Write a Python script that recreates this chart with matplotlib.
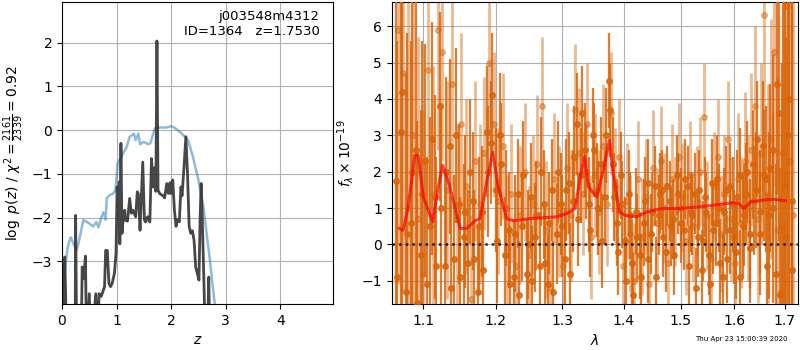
#!/usr/bin/python3

import numpy as np
import matplotlib
matplotlib.use("Agg")
import matplotlib.pyplot as plt
from matplotlib.ticker import NullLocator

# redshift probability (left panel)
z_pz = [0.00, 0.02, 0.05, 0.09, 0.24, 0.25, 0.27, 0.35, 0.37, 0.40, 0.43, 0.45,
        0.50, 0.53, 0.62, 0.65, 0.68, 0.72, 0.78, 0.80, 0.83, 0.86, 0.89, 0.92,
        0.96, 0.99, 1.01, 1.02, 1.05, 1.06, 1.08, 1.10, 1.12, 1.15, 1.16, 1.20,
        1.24, 1.27, 1.30, 1.35, 1.38, 1.40, 1.43, 1.44, 1.48, 1.51, 1.53, 1.57,
        1.61, 1.64, 1.67, 1.70, 1.72, 1.74, 1.76, 1.79, 1.85, 1.88, 1.92, 1.95,
        1.98, 2.00, 2.03, 2.06, 2.09, 2.11, 2.15, 2.18, 2.20, 2.24, 2.27, 2.30,
        2.33, 2.36, 2.39, 2.42, 2.45, 2.48, 2.51, 2.53, 2.55, 2.57, 2.60, 2.63,
        2.66, 2.69, 2.71, 2.80]
logpz = [-5.0, -3.97, -2.90, -5.0, -5.0, -1.95, -5.0, -5.0, -3.13, -3.40, -2.88, -5.0,
         -3.74, -5.0, -3.74, -5.0, -3.74, -3.80, -3.58, -2.75, -2.75, -3.51, -3.58, -3.50,
         -3.28, -2.82, -1.30, -1.60, -1.18, -2.60, -0.30, -2.36, -2.05, -1.83, -2.06, -2.08,
         -1.56, -1.90, -1.83, -1.98, -1.41, -1.45, -2.29, -1.98, -0.73, -2.05, -2.10, -1.98,
         -2.10, -0.65, -1.30, -0.85, -1.40, 2.04, -1.37, -1.45, -1.50, -1.55, -1.22, -1.45,
         -1.20, -1.45, -1.14, -1.83, -2.20, -2.05, -2.10, -1.30, -1.50, -0.76, -0.15, -1.00,
         -2.20, -2.36, -2.30, -2.52, -3.13, -3.28, -3.43, -2.06, -1.22, -2.00, -3.43, -5.0,
         -5.0, -3.36, -5.0, -5.0]

z_chi = [0.00, 0.05, 0.10, 0.14, 0.16, 0.23, 0.27, 0.30, 0.39, 0.46, 0.57, 0.63,
         0.67, 0.72, 0.76, 0.80, 0.82, 0.88, 0.94, 0.98, 1.02, 1.09, 1.18, 1.24,
         1.32, 1.35, 1.40, 1.43, 1.50, 1.58, 1.62, 1.70, 1.79, 1.91, 2.00, 2.06,
         2.16, 2.25, 2.31, 2.40, 2.50, 2.59, 2.65, 2.71, 2.77, 2.80, 2.90]
chi_scaled = [-3.98, -3.27, -2.70, -2.52, -2.45, -2.65, -2.74, -2.60, -2.06, -2.10, -2.20, -2.10,
              -2.22, -2.00, -1.88, -2.05, -1.55, -1.48, -1.45, -1.38, -0.75, -0.60, -0.40, -0.15,
              -0.08, -0.23, -0.08, -0.32, -0.27, -0.32, -0.30, 0.04, 0.06, 0.06, 0.09, 0.06,
              -0.04, -0.15, -0.23, -0.61, -1.14, -1.75, -2.36, -2.97, -3.66, -3.98, -5.0]

# spectrum (right panel), wavelength in micron
wave_a = [1.0640, 1.0705, 1.0770, 1.0835, 1.0900, 1.0965, 1.1030, 1.1095, 1.1160, 1.1225,
          1.1290, 1.1355, 1.1420, 1.1485, 1.1550, 1.1615, 1.1680, 1.1745, 1.1810, 1.1875,
          1.1940, 1.2005, 1.2070, 1.2135, 1.2200, 1.2265, 1.2330, 1.2395, 1.2460, 1.2525,
          1.2590, 1.2655, 1.2720, 1.2785, 1.2850, 1.2915, 1.2980, 1.3045, 1.3110, 1.3175,
          1.3240, 1.3305, 1.3370, 1.3435, 1.3500, 1.3565, 1.3630, 1.3695, 1.3760, 1.3825,
          1.3890, 1.3955, 1.4020, 1.4085, 1.4150, 1.4215, 1.4280, 1.4345, 1.4410, 1.4475,
          1.4540, 1.4605, 1.4670, 1.4735, 1.4800, 1.4865, 1.4930, 1.4995, 1.5060, 1.5125,
          1.5190, 1.5255, 1.5320, 1.5385, 1.5450, 1.5515, 1.5580, 1.5645, 1.5710, 1.5775,
          1.5840, 1.5905, 1.5970, 1.6035, 1.6100, 1.6165, 1.6230, 1.6295, 1.6360, 1.6425,
          1.6490, 1.6555, 1.6620, 1.6685, 1.6750, 1.6815, 1.6880, 1.6945, 1.7010, 1.7075,
          1.7140]
flux_a = [1.75, 3.1, -1.3, 0.6, 2.6, -0.3, 2.3, 0.5, 1.3, 3.8,
          -0.6, 2.7, -0.4, 1.1, 0.2, -0.5, 1.2, -1.3, 0.9, 3.1,
          2.8, 1.5, 3.0, -0.3, 0.4, -0.9, 1.4, 0.5, -0.8, 1.3,
          0.2, -0.6, 1.1, -1.1, 1.5, 0.3, 1.1, -0.4, 1.7, 1.2,
          3.3, 1.9, 2.6, 1.1, 3.0, 1.5, 2.2, 1.3, 4.5, 2.2,
          0.6, 1.9, 0.1, 1.4, -0.5, 0.9, -0.3, 0.6, 1.7, 0.3,
          1.6, 0.8, 1.5, -0.2, 1.2, 0.7, 1.9, 1.0, 0.4, 1.6,
          0.9, 1.4, 0.2, -0.7, 1.3, -0.3, 1.7, 0.6, 1.0, -0.9,
          1.5, 0.4, 1.1, -0.2, 1.9, 0.5, 1.4, 0.3, 2.2, 1.5,
          0.9, 2.7, 1.8, 0.8, 2.6, -0.8, 3.6, 0.5, 1.6, 3.0,
          1.2]
err_a = [6.0, 5.5, 6.0, 5.0, 4.5, 4.0, 3.2, 3.0, 2.8, 2.6,
         2.5, 2.4, 2.3, 2.2, 2.0, 2.0, 1.9, 1.8, 1.8, 1.8,
         1.7, 1.7, 1.7, 1.6, 1.6, 1.6, 1.5, 1.5, 1.5, 1.5,
         1.5, 1.5, 1.5, 1.4, 1.4, 1.4, 1.4, 1.4, 1.4, 1.4,
         1.4, 1.3, 1.3, 1.3, 1.3, 1.3, 1.3, 1.3, 1.3, 1.3,
         1.2, 1.2, 1.2, 1.2, 1.2, 1.2, 1.2, 1.2, 1.2, 1.1,
         1.1, 1.1, 1.1, 1.1, 1.1, 1.1, 1.1, 1.1, 1.1, 1.1,
         1.1, 1.1, 1.1, 1.1, 1.1, 1.1, 1.2, 1.2, 1.2, 1.2,
         1.2, 1.2, 1.3, 1.3, 1.3, 1.4, 1.4, 1.5, 1.5, 1.6,
         1.7, 1.8, 2.0, 2.3, 2.6, 3.0, 3.5, 4.5, 5.5, 6.5,
         8.0]

wave_c = [1.0656, 1.0721, 1.0786, 1.0851, 1.0916, 1.0981, 1.1046, 1.1111, 1.1176, 1.1241,
          1.1306, 1.1371, 1.1436, 1.1501, 1.1566, 1.1631, 1.1696, 1.1761, 1.1826, 1.1891,
          1.1956, 1.2021, 1.2086, 1.2151, 1.2216, 1.2281, 1.2346, 1.2411, 1.2476, 1.2541,
          1.2606, 1.2671, 1.2736, 1.2801, 1.2866, 1.2931, 1.2996, 1.3061, 1.3126, 1.3191,
          1.3256, 1.3321, 1.3386, 1.3451, 1.3516, 1.3581, 1.3646, 1.3711, 1.3776, 1.3841,
          1.3906, 1.3971, 1.4036, 1.4101, 1.4166, 1.4231, 1.4296, 1.4361, 1.4426, 1.4491,
          1.4556, 1.4621, 1.4686, 1.4751, 1.4816, 1.4881, 1.4946, 1.5011, 1.5076, 1.5141,
          1.5206, 1.5271, 1.5336, 1.5401, 1.5466, 1.5531, 1.5596, 1.5661, 1.5726, 1.5791,
          1.5856, 1.5921, 1.5986, 1.6051, 1.6116, 1.6181, 1.6246, 1.6311, 1.6376, 1.6441,
          1.6506, 1.6571, 1.6636, 1.6701, 1.6766, 1.6831, 1.6896, 1.6961, 1.7026, 1.7091,
          1.7156]
flux_c = [-0.9, 4.2, 0.3, 2.0, -1.6, 1.4, -1.1, 2.9, -0.6, 1.0,
          2.0, -1.2, 3.0, -0.9, 0.9, 2.0, -0.4, 0.5, -0.7, 2.0,
          4.1, 0.1, 2.2, 1.0, -1.1, 0.3, -1.4, 1.9, 0.0, -1.0,
          0.8, 2.0, -0.5, 0.6, -1.3, 2.0, 0.5, 1.5, -0.8, 2.4,
          0.7, 3.6, 2.0, 0.4, 2.6, 1.0, 0.1, 3.0, 3.7, 1.3,
          -0.2, 1.1, -1.0, 0.8, -1.4, 0.2, -0.9, 1.2, -0.4, 0.9,
          -0.9, 1.4, 0.2, 1.6, 0.5, -0.3, 1.4, 0.6, 1.8, -0.6,
          0.8, -1.2, 1.5, 0.1, 0.9, -1.1, 0.4, 1.8, -0.5, 0.9,
          -0.4, 1.6, 0.2, 1.3, -0.9, 0.8, 2.0, -0.1, 1.2, 2.9,
          0.3, 1.9, -0.6, 2.1, 1.0, 4.4, -1.4, 2.5, 0.2, 4.0,
          -0.7]
err_c = [6.5, 6.0, 5.5, 5.0, 5.0, 4.2, 3.5, 3.2, 3.0, 2.8,
         2.6, 2.5, 2.4, 2.2, 2.1, 2.0, 1.9, 1.9, 1.8, 1.8,
         1.7, 1.7, 1.7, 1.6, 1.6, 1.6, 1.5, 1.5, 1.5, 1.5,
         1.5, 1.5, 1.5, 1.4, 1.4, 1.4, 1.4, 1.4, 1.4, 1.4,
         1.3, 1.3, 1.3, 1.3, 1.3, 1.3, 1.3, 1.3, 1.3, 1.2,
         1.2, 1.2, 1.2, 1.2, 1.2, 1.2, 1.2, 1.2, 1.2, 1.1,
         1.1, 1.1, 1.1, 1.1, 1.1, 1.1, 1.1, 1.1, 1.1, 1.1,
         1.1, 1.1, 1.1, 1.1, 1.1, 1.1, 1.2, 1.2, 1.2, 1.2,
         1.2, 1.2, 1.3, 1.3, 1.3, 1.4, 1.4, 1.5, 1.5, 1.6,
         1.7, 1.8, 2.0, 2.3, 2.6, 3.0, 3.5, 4.5, 5.5, 6.5,
         8.0]

wave_b = [1.0672, 1.0737, 1.0802, 1.0867, 1.0932, 1.0997, 1.1062, 1.1127, 1.1192, 1.1257,
          1.1322, 1.1387, 1.1452, 1.1517, 1.1582, 1.1647, 1.1712, 1.1777, 1.1842, 1.1907,
          1.1972, 1.2037, 1.2102, 1.2167, 1.2232, 1.2297, 1.2362, 1.2427, 1.2492, 1.2557,
          1.2622, 1.2687, 1.2752, 1.2817, 1.2882, 1.2947, 1.3012, 1.3077, 1.3142, 1.3207,
          1.3272, 1.3337, 1.3402, 1.3467, 1.3532, 1.3597, 1.3662, 1.3727, 1.3792, 1.3857,
          1.3922, 1.3987, 1.4052, 1.4117, 1.4182, 1.4247, 1.4312, 1.4377, 1.4442, 1.4507,
          1.4572, 1.4637, 1.4702, 1.4767, 1.4832, 1.4897, 1.4962, 1.5027, 1.5092, 1.5157,
          1.5222, 1.5287, 1.5352, 1.5417, 1.5482, 1.5547, 1.5612, 1.5677, 1.5742, 1.5807,
          1.5872, 1.5937, 1.6002, 1.6067, 1.6132, 1.6197, 1.6262, 1.6327, 1.6392, 1.6457,
          1.6522, 1.6587, 1.6652, 1.6717, 1.6782, 1.6847, 1.6912, 1.6977, 1.7042, 1.7107,
          1.7172]
flux_b = [5.9, 4.7, 1.0, 3.0, 0.7, -0.8, 4.8, 1.4, 5.9, 5.3,
          1.5, 4.4, 0.7, 3.3, 1.6, -1.5, 2.3, 1.1, 2.5, 5.0,
          3.3, 1.2, 2.7, -0.1, 1.4, -0.6, 0.8, 2.0, -0.3, 1.1,
          2.2, 3.8, 0.4, -1.2, 1.8, 0.9, -0.6, 2.1, 0.8, 3.7,
          2.5, 1.4, 3.3, 0.2, 1.9, 0.9, 2.7, 1.1, 3.6, 1.6,
          2.4, -0.6, 1.2, 0.3, -1.0, 1.8, 0.2, 1.3, -1.1, 2.1,
          0.6, 2.3, 1.0, -0.5, 1.8, 0.9, 2.4, 1.3, 0.1, 1.9,
          0.5, 1.2, 2.0, 3.5, 0.8, -0.4, 1.6, 2.4, 0.3, 1.4,
          2.9, 0.7, -0.5, 1.8, 0.6, 2.3, 1.0, 2.6, 3.8, 0.7,
          2.5, 6.3, 1.4, 2.9, 5.3, 0.4, -1.3, 1.9, 6.55, 2.3,
          0.8]
err_b = [7.0, 6.0, 6.0, 5.5, 5.0, 4.5, 3.8, 3.5, 3.3, 3.0,
         3.0, 2.8, 2.6, 2.5, 2.4, 2.3, 2.2, 2.2, 2.1, 2.1,
         2.0, 2.0, 2.0, 2.0, 1.9, 1.9, 1.9, 1.9, 1.9, 1.9,
         1.9, 1.9, 1.9, 1.9, 1.8, 1.8, 1.8, 1.8, 1.8, 1.8,
         1.8, 1.7, 1.7, 1.7, 1.7, 1.7, 1.7, 1.7, 1.7, 1.6,
         1.6, 1.6, 1.6, 1.6, 1.6, 1.6, 1.6, 1.6, 1.6, 1.6,
         1.5, 1.5, 1.5, 1.5, 1.5, 1.5, 1.5, 1.5, 1.5, 1.5,
         1.5, 1.5, 1.5, 1.5, 1.5, 1.5, 1.5, 1.6, 1.6, 1.6,
         1.6, 1.7, 1.7, 1.8, 1.8, 1.9, 2.0, 2.1, 2.2, 2.3,
         2.5, 2.7, 3.0, 3.3, 3.7, 4.2, 4.8, 5.5, 6.5, 7.5,
         8.5]

# best-fit model
wave_model = [1.0686, 1.0738, 1.0802, 1.0890, 1.0933, 1.1000, 1.1125, 1.1201, 1.1260, 1.1360,
              1.1499, 1.1590, 1.1708, 1.1779, 1.1860, 1.1959, 1.2040, 1.2163, 1.2260, 1.2510,
              1.2919, 1.3076, 1.3208, 1.3288, 1.3357, 1.3422, 1.3554, 1.3663, 1.3762, 1.3829,
              1.3929, 1.4028, 1.4227, 1.4403, 1.4692, 1.4991, 1.5294, 1.5604, 1.5986, 1.6080,
              1.6180, 1.6313, 1.6577, 1.6778, 1.7013]
flux_model = [0.44, 0.39, 1.03, 2.45, 2.45, 1.31, 0.62, 1.58, 2.18, 1.58,
              0.44, 0.44, 0.65, 0.71, 1.58, 2.54, 1.58, 0.71, 0.65, 0.71,
              0.76, 0.85, 0.99, 1.86, 2.41, 1.58, 1.31, 2.04, 2.87, 1.95,
              0.90, 0.80, 0.76, 0.90, 0.99, 0.99, 1.03, 1.08, 1.15, 1.13,
              0.99, 1.17, 1.22, 1.24, 1.20]

orange = "#d9650a"


def main():
    fig = plt.figure(figsize=(8, 3.5), dpi=100)
    ax1 = fig.add_axes([0.0775, 0.131, 0.339, 0.863])
    ax2 = fig.add_axes([0.4896, 0.131, 0.5084, 0.863])

    # p(z)
    ax1.plot(z_chi, chi_scaled, color="#1f77b4", alpha=0.5, lw=1.8)
    ax1.plot(z_pz, logpz, color="0.2", alpha=0.9, lw=2)
    ax1.set_xlim(0, 4.97)
    ax1.set_ylim(-3.98, 2.93)
    ax1.set_xticks([0, 1, 2, 3, 4])
    ax1.set_yticks([-3, -2, -1, 0, 1, 2])
    ax1.grid()
    ax1.set_xlabel("$z$")
    ax1.set_ylabel(r"$\log\ p(z)$ / $\chi^2=\frac{2161}{2339}=0.92$")
    ax1.text(0.95, 0.975, "j003548m4312\nID=1364   z=1.7530", transform=ax1.transAxes,
             ha="right", va="top", fontsize=9.5)

    # spectrum
    ax2.errorbar(wave_b, flux_b, yerr=err_b, color=orange, alpha=0.45, marker="o",
                 ms=4, linestyle="none", elinewidth=2.0, zorder=2)
    for w, f, e in [(wave_a, flux_a, err_a), (wave_c, flux_c, err_c)]:
        ax2.errorbar(w, f, yerr=e, color=orange, alpha=0.85, marker="o",
                     ms=4, linestyle="none", elinewidth=1.6, zorder=3)
    ax2.plot(wave_model, flux_model, color="red", alpha=0.7, lw=2.2, zorder=5)
    ax2.axhline(0, color="k", linestyle=":", lw=1.8, alpha=0.8, zorder=6)
    ax2.set_xscale("log")
    ax2.set_xlim(1.059, 1.728)
    ax2.set_ylim(-1.64, 6.66)
    ax2.set_xticks([1.1, 1.2, 1.3, 1.4, 1.5, 1.6, 1.7])
    ax2.set_xticklabels(["1.1", "1.2", "1.3", "1.4", "1.5", "1.6", "1.7"])
    ax2.xaxis.set_minor_locator(NullLocator())
    ax2.set_yticks([-1, 0, 1, 2, 3, 4, 5, 6])
    ax2.grid()
    ax2.set_xlabel(r"$\lambda$")
    ax2.set_ylabel(r"$f_\lambda \times 10^{-19}$")

    fig.text(0.984, 0.031, "Thu Apr 23 15:00:39 2020", ha="right", va="center", fontsize=5)

    fig.savefig("out.png", dpi=100)


if __name__ == '__main__':
    main()
